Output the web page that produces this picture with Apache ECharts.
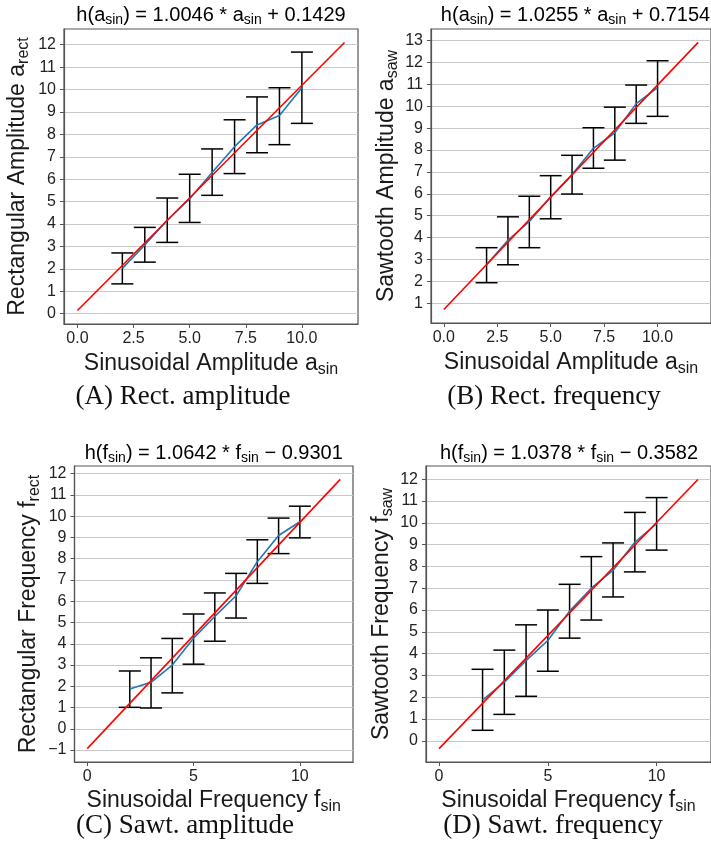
<!DOCTYPE html>
<html><head><meta charset="utf-8">
<script src="https://cdn.jsdelivr.net/npm/echarts@6/dist/echarts.min.js"></script>
<style>html,body{margin:0;padding:0;background:#fff}#c{width:711px;height:850px}</style>
</head><body><div id="c"></div><script>
// ---- data ----
const xs = [2, 3, 4, 5, 6, 7, 8, 9, 10];
const fitX = [0, 11.9];

const aMean = [2.02, 3.07, 4.17, 5.13, 6.30, 7.45, 8.42, 8.84, 10.08];
const aLo   = [1.33, 2.30, 3.18, 4.07, 5.28, 6.25, 7.18, 7.54, 8.49];
const aHi   = [2.71, 3.85, 5.16, 6.22, 7.35, 8.65, 9.67, 10.08, 11.67];
const aFit  = [0.14, 12.10];

const bMean = [2.76, 3.88, 4.74, 5.87, 6.88, 8.08, 8.79, 10.12, 10.85];
const bLo   = [1.94, 2.76, 3.54, 4.86, 5.99, 7.17, 7.54, 9.22, 9.54];
const bHi   = [3.54, 4.95, 5.89, 6.83, 7.76, 9.02, 9.96, 10.97, 12.08];
const bFit  = [0.72, 12.92];

const cMean = [1.87, 2.19, 3.00, 4.26, 5.29, 6.26, 7.86, 9.09, 9.74];
const cLo   = [1.01, 0.98, 1.69, 3.04, 4.12, 5.21, 6.84, 8.24, 8.98];
const cHi   = [2.72, 3.34, 4.25, 5.40, 6.39, 7.31, 8.89, 9.91, 10.47];
const cFit  = [-0.93, 11.73];

const dMean = [1.87, 2.69, 3.68, 4.60, 5.95, 7.00, 7.83, 9.11, 9.97];
const dLo   = [0.48, 1.21, 2.04, 3.19, 4.71, 5.54, 6.60, 7.75, 8.75];
const dHi   = [3.28, 4.16, 5.32, 6.00, 7.18, 8.45, 9.08, 10.48, 11.16];
const dFit  = [-0.36, 11.99];

const xTicksAmp = [0, 2.5, 5, 7.5, 10];
const xTicksFreq = [0, 5, 10];
const yTicksA = [0,1,2,3,4,5,6,7,8,9,10,11,12];
const yTicksB = [1,2,3,4,5,6,7,8,9,10,11,12,13];
const yTicksC = [-1,0,1,2,3,4,5,6,7,8,9,10,11,12];
const yTicksD = [0,1,2,3,4,5,6,7,8,9,10,11,12];

const titles = [
  ['h(a', 'sin', ') = 1.0046 * a', 'sin', ' + 0.1429'],
  ['h(a', 'sin', ') = 1.0255 * a', 'sin', ' + 0.7154'],
  ['h(f', 'sin', ') = 1.0642 * f', 'sin', ' \u2212 0.9301'],
  ['h(f', 'sin', ') = 1.0378 * f', 'sin', ' \u2212 0.3582']
];
const xNames = [['Sinusoidal Amplitude a','sin'],['Sinusoidal Amplitude a','sin'],['Sinusoidal Frequency f','sin'],['Sinusoidal Frequency f','sin']];
const yNames = [['Rectangular Amplitude a','rect'],['Sawtooth Amplitude a','saw'],['Rectangular Frequency f','rect'],['Sawtooth Frequency f','saw']];
const captions = ['(A) Rect. amplitude', '(B) Rect. frequency', '(C) Sawt. amplitude', '(D) Sawt. frequency'];

// ---- layout ----
const FONT = 'Liberation Sans';
const grids = [
  {left: 64, top: 29, width: 294, height: 295},
  {left: 431, top: 29, width: 289, height: 294},
  {left: 74.5, top: 466, width: 278.5, height: 296},
  {left: 426, top: 466, width: 286, height: 296}
];
const xRanges = [[-0.6, 12.5], [-0.6, 12.5], [-0.6, 12.5], [-0.6, 12.5]];
const yRanges = [[-0.46, 12.7], [0.1, 13.53], [-1.56, 12.36], [-0.975, 12.61]];
const xTickSets = [xTicksAmp, xTicksAmp, xTicksFreq, xTicksFreq];
const yTickSets = [yTicksA, yTicksB, yTicksC, yTicksD];
const means = [aMean, bMean, cMean, dMean];
const los = [aLo, bLo, cLo, dLo];
const his = [aHi, bHi, cHi, dHi];
const fits = [aFit, bFit, cFit, dFit];
const yNameGap = [32, 30, 32, 30];
const xNameGap = [26, 26, 25, 25];

const frameColor = '#555555';
const richSub = (base) => ({
  m: {fontFamily: FONT, fontSize: base, lineHeight: base + 5, color: '#1a1a1a'},
  s: {fontFamily: FONT, fontSize: Math.round(base * 0.7), lineHeight: Math.round(base * 0.55), verticalAlign: 'bottom', color: '#1a1a1a'}
});
const mk = parts => parts.map((p, i) => (i % 2 === 0 ? '{m|' + p + '}' : '{s|' + p + '}')).join('');

const xAxes = [], yAxes = [], series = [];
for (let g = 0; g < 4; g++) {
  const xt = xTickSets[g];
  xAxes.push({
    type: 'value', gridIndex: g, min: xRanges[g][0], max: xRanges[g][1],
    axisLine: {show: true, onZero: false, lineStyle: {color: frameColor, width: 1.2}},
    axisTick: {show: true, length: 4, lineStyle: {color: frameColor, width: 1}, customValues: xt},
    axisLabel: {customValues: xt, margin: 7, fontSize: 16, fontFamily: FONT, color: '#222',
      formatter: v => (g < 2 ? Number(v).toFixed(1) : String(v))},
    splitLine: {show: false},
    name: mk(xNames[g]), nameLocation: 'middle', nameGap: xNameGap[g],
    nameTextStyle: {rich: richSub(23)}
  });
  const yt = yTickSets[g];
  yAxes.push({
    type: 'value', gridIndex: g, min: yRanges[g][0], max: yRanges[g][1],
    axisLine: {show: true, onZero: false, lineStyle: {color: frameColor, width: 1.2}},
    axisTick: {show: true, length: 4, lineStyle: {color: frameColor, width: 1}, customValues: yt},
    axisLabel: {customValues: yt, margin: 8, fontSize: 16, fontFamily: FONT, color: '#222',
      formatter: v => String(v).replace('-', '\u2212')},
    splitLine: {show: true, lineStyle: {color: '#c8c8c8', width: 1.2}},
    name: mk(yNames[g]), nameLocation: 'middle', nameGap: yNameGap[g], nameRotate: 90,
    nameTextStyle: {rich: richSub(23)}
  });
  const lo = los[g], hi = his[g], mean = means[g], fit = fits[g];
  series.push({
    type: 'custom', xAxisIndex: g, yAxisIndex: g, silent: true, z: 2,
    data: xs.map((x, i) => [x, lo[i], hi[i]]),
    encode: {x: 0, y: [1, 2]},
    renderItem: (params, api) => {
      const t = api.coord([api.value(0), api.value(2)]);
      const b = api.coord([api.value(0), api.value(1)]);
      const hw = 11;
      const st = {stroke: '#000', lineWidth: 1.5};
      return {type: 'group', children: [
        {type: 'line', shape: {x1: t[0], y1: t[1], x2: b[0], y2: b[1]}, style: st},
        {type: 'line', shape: {x1: t[0] - hw, y1: t[1], x2: t[0] + hw, y2: t[1]}, style: st},
        {type: 'line', shape: {x1: b[0] - hw, y1: b[1], x2: b[0] + hw, y2: b[1]}, style: st}
      ]};
    }
  });
  series.push({
    type: 'line', xAxisIndex: g, yAxisIndex: g, z: 3, symbol: 'none', silent: true,
    data: xs.map((x, i) => [x, mean[i]]),
    lineStyle: {color: '#1f77b4', width: 1.6}
  });
  series.push({
    type: 'line', xAxisIndex: g, yAxisIndex: g, z: 4, symbol: 'none', silent: true,
    data: fitX.map((x, i) => [x, fit[i]]),
    lineStyle: {color: '#ff0000', width: 1.6}
  });
}

const graphics = [];
const titleY = [15, 15, 453, 453];
const capPos = [[183, 397], [554, 397], [185, 826], [553, 826]];
for (let g = 0; g < 4; g++) {
  const gr = grids[g];
  graphics.push({
    type: 'text', silent: true,
    style: {text: mk(titles[g]), x: gr.left + gr.width / 2, y: titleY[g], align: 'center', verticalAlign: 'middle', rich: richSub(20)}
  });
  graphics.push({
    type: 'text', silent: true,
    style: {text: captions[g], x: capPos[g][0], y: capPos[g][1], align: 'center', verticalAlign: 'middle',
      font: '27px "Liberation Serif"', fill: '#111'}
  });
}

const option = {
  backgroundColor: '#ffffff',
  animation: false,
  grid: grids.map(gr => Object.assign({show: true, borderColor: frameColor, borderWidth: 1.2, backgroundColor: 'transparent'}, gr)),
  xAxis: xAxes,
  yAxis: yAxes,
  series: series,
  graphic: graphics
};
const chart = echarts.init(document.getElementById('c'), null, {renderer: 'canvas'});
chart.setOption(option);
</script></body></html>
